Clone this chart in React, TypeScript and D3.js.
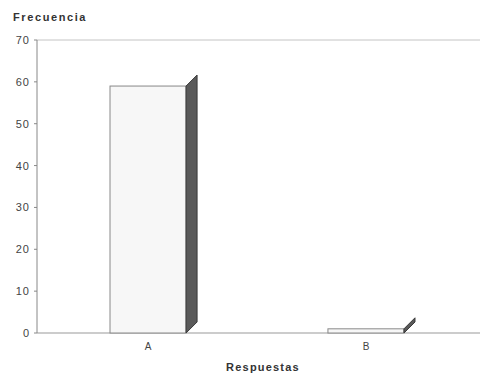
import React from "react";
import * as d3 from "d3";

const categories = ["A", "B"];
const values = [59, 1];
const yTicks = [0, 10, 20, 30, 40, 50, 60, 70];

export default function App() {
  const W = 480, H = 373;
  const left = 37, right = 480, top = 40, bottom = 333;
  const y = d3.scaleLinear().domain([0, 70]).range([bottom, top]);
  const x = d3.scaleBand().domain(categories).range([37, 477]).paddingInner(0.651).paddingOuter(0.335);
  const dx = 11, dy = 11;
  const font = "Liberation Sans, Arial, sans-serif";
  return (
    <svg width={W} height={H} style={{ position: "absolute", left: 0, top: 0, background: "#fff" }}>
      <rect width={W} height={H} fill="#fff" />
      <text x={13} y={21} fontFamily={font} fontSize={11} fontWeight="bold" letterSpacing={1.6} fill="#333">Frecuencia</text>
      <line x1={left} x2={right} y1={top} y2={top} stroke="#c4c4c4" strokeWidth={1} />
      <line x1={left} x2={right} y1={bottom} y2={bottom} stroke="#999" strokeWidth={1} />
      <line x1={left} x2={left} y1={top} y2={bottom} stroke="#888" strokeWidth={1} />
      {yTicks.map((t) => (
        <g key={t}>
          <line x1={left - 3} x2={left} y1={y(t)} y2={y(t)} stroke="#888" />
          <text x={30} y={y(t) + 4} textAnchor="end" fontFamily={font} fontSize={11} letterSpacing={1} fill="#444">{t}</text>
        </g>
      ))}
      {categories.map((c, i) => {
        const x0 = x(c)!;
        const w = x.bandwidth();
        const yt = y(values[i]);
        const x1 = x0 + w;
        const side = `M${x1},${bottom} L${x1 + dx},${bottom - dy} L${x1 + dx},${yt - dy} L${x1},${yt} Z`;
        return (
          <g key={c}>
            <rect x={x0} y={yt} width={w} height={bottom - yt} fill="#f7f7f7" stroke="#888" strokeWidth={1} />
            <path d={side} fill="#5a5a5a" stroke="#3a3a3a" strokeWidth={1} />
            <text x={x0 + w / 2} y={bottom + 17} textAnchor="middle" fontFamily={font} fontSize={10} fill="#444">{c}</text>
          </g>
        );
      })}
      <text x={263} y={371} textAnchor="middle" fontFamily={font} fontSize={11} fontWeight="bold" letterSpacing={1.2} fill="#333">Respuestas</text>
    </svg>
  );
}
